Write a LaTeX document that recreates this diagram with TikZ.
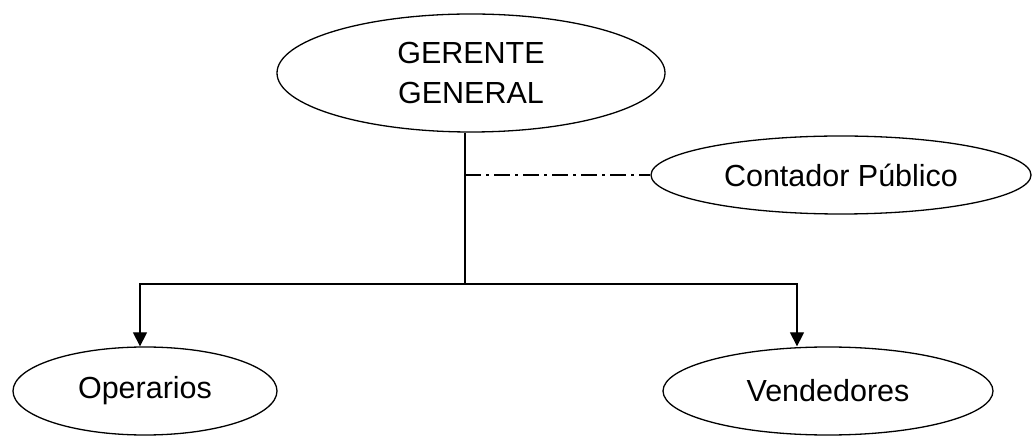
\documentclass[tikz,border=0pt]{standalone}
\usepackage{fontspec}
\setmainfont{Liberation Sans}
\usetikzlibrary{shapes.geometric,arrows.meta}

\begin{document}
\begin{tikzpicture}[
    x=1pt,y=1pt,
    font=\fontsize{30.5}{40}\selectfont,
    box/.style={ellipse,draw,line width=1.3pt,inner sep=0pt},
    line/.style={line width=1.3pt},
    arr/.style={line,-{Triangle[length=14pt,width=14pt]}},
    dashdot/.style={line,dash pattern=on 16pt off 5pt on 3pt off 5pt}
]
\useasboundingbox (0,0) rectangle (1032,436);

% Manager
\node[box,minimum width=388pt,minimum height=118pt,align=center] (G) at (471,363) {GERENTE\\GENERAL};

% Staff position
\node[box,minimum width=380pt,minimum height=78pt] (C) at (841,261) {Contador Público};

% Subordinates
\node[box,minimum width=264pt,minimum height=88pt] (O) at (145,45) {Operarios};
\node[box,minimum width=330pt,minimum height=88pt] (V) at (828,45) {Vendedores};

% Line of command
\coordinate (hub) at (465,152);
\draw[line] (G.south -| hub) -- (hub);
\draw[arr] (hub) -| ([xshift=-5pt]O.north);
\draw[arr] (hub) -| ([xshift=-31pt]V.north);

% Advisory line
\draw[dashdot] (hub |- C.west) -- (C.west);

\end{tikzpicture}
\end{document}
